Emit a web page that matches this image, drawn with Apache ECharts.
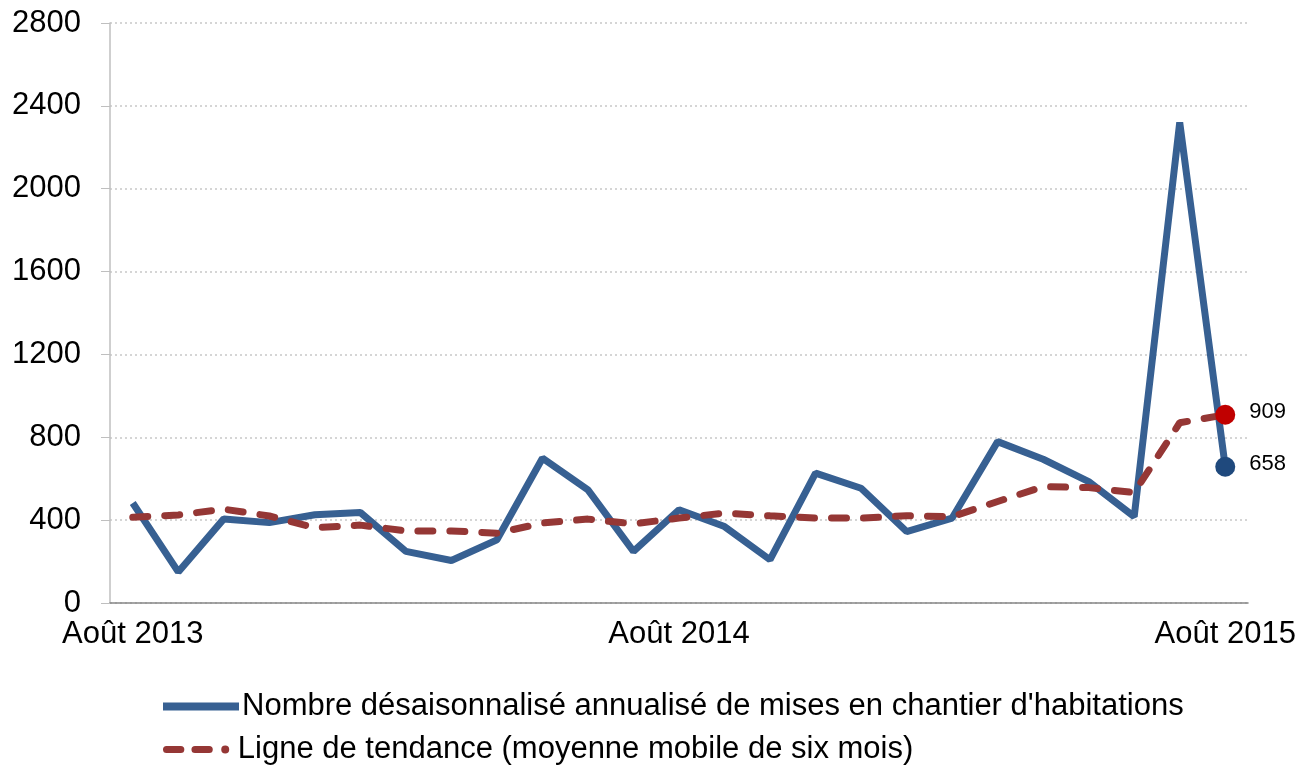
<!DOCTYPE html>
<html><head><meta charset="utf-8">
<script src="https://cdn.jsdelivr.net/npm/echarts@6/dist/echarts.min.js"></script>
<style>html,body{margin:0;padding:0;background:#fff}#c{width:1312px;height:771px}</style>
</head><body><div id="c"></div>
<script>
const months = ["Août 2013","Sept. 2013","Oct. 2013","Nov. 2013","Déc. 2013","Janv. 2014","Févr. 2014","Mars 2014","Avr. 2014","Mai 2014","Juin 2014","Juil. 2014",
"Août 2014","Sept. 2014","Oct. 2014","Nov. 2014","Déc. 2014","Janv. 2015","Févr. 2015","Mars 2015","Avr. 2015","Mai 2015","Juin 2015","Juil. 2015","Août 2015"];
const starts = [483,150,406,388,426,437,249,205,305,699,546,249,450,369,209,627,554,345,410,779,694,586,417,2320,658];
const trend  = [414,425,453,420,363,376,348,348,337,386,405,382,410,434,421,410,410,421,417,490,562,557,533,870,909];
const yTicks = {min:0, max:2800, interval:400};
const seriesNames = ["Nombre désaisonnalisé annualisé de mises en chantier d'habitations","Ligne de tendance (moyenne mobile de six mois)"];

const font = 'Liberation Sans, Arial, sans-serif';
function withLastMarker(arr, color){
  return arr.map((v,i)=> i===arr.length-1 ? {value:v, symbol:'circle', symbolSize:20, itemStyle:{color:color},
    label:{show:true, position:'right', distance:14, offset:[0,-3], color:'#000', fontSize:22, fontFamily:font}} : v);
}
const dashIcon = 'path://M4,0 L20,0 A4,4 0 0 1 20,8 L4,8 A4,4 0 0 1 4,0 Z M36,0 L52,0 A4,4 0 0 1 52,8 L36,8 A4,4 0 0 1 36,0 Z M70,-0.5 A4.5,4.5 0 0 1 70,8.5 A4.5,4.5 0 0 1 70,-0.5 Z M76,4 L76,4.01 Z M0,4 L0,4.01 Z';
const legendText = {fontSize:31, color:'#000', fontFamily:font, padding:[0,0,0,-2]};
const chart = echarts.init(document.getElementById('c'), null, {renderer:'canvas'});
chart.setOption({
  animation:false,
  grid:{left:110, right:64, top:23, bottom:168, containLabel:false},
  legend:[
    {left:158, top:686, itemWidth:76, itemHeight:8, textStyle:legendText, selectedMode:false,
     data:[{name:seriesNames[0], icon:'rect', itemStyle:{color:'#376092'}}]},
    {left:158, top:729, itemWidth:76, itemHeight:8, textStyle:legendText, selectedMode:false,
     data:[{name:seriesNames[1], icon:dashIcon, itemStyle:{color:'#953735'}}]}
  ],
  xAxis:{type:'category', data:months, boundaryGap:true,
    axisLine:{lineStyle:{color:'#868686', width:1.5}},
    axisTick:{length:8, interval:(i)=>i%12===0, lineStyle:{color:'#868686'}},
    axisLabel:{interval:(i)=>i%12===0, fontSize:31, color:'#000', fontFamily:font, margin:16}},
  yAxis:{type:'value', min:yTicks.min, max:yTicks.max, interval:yTicks.interval,
    axisLine:{show:true, lineStyle:{color:'#bfbfbf', width:1.5}},
    axisTick:{show:true, length:9, lineStyle:{color:'#bfbfbf'}},
    axisLabel:{fontSize:31, color:'#000', fontFamily:font, margin:29, formatter:(v)=>String(v)},
    splitLine:{lineStyle:{color:'#c8c8c8', type:[2,3], width:1.5}}},
  series:[
    {name:seriesNames[0], type:'line', data:withLastMarker(starts,'#1F497D'), symbol:'none', showSymbol:true,
     lineStyle:{color:'#376092', width:7, join:'bevel'}, itemStyle:{color:'#376092'}, z:3},
    {name:seriesNames[1], type:'line', data:withLastMarker(trend,'#C00000'), symbol:'none', showSymbol:true,
     lineStyle:{color:'#953735', width:7, type:[15,17], cap:'round'}, itemStyle:{color:'#953735'}, z:4}
  ]
});
</script></body></html>
